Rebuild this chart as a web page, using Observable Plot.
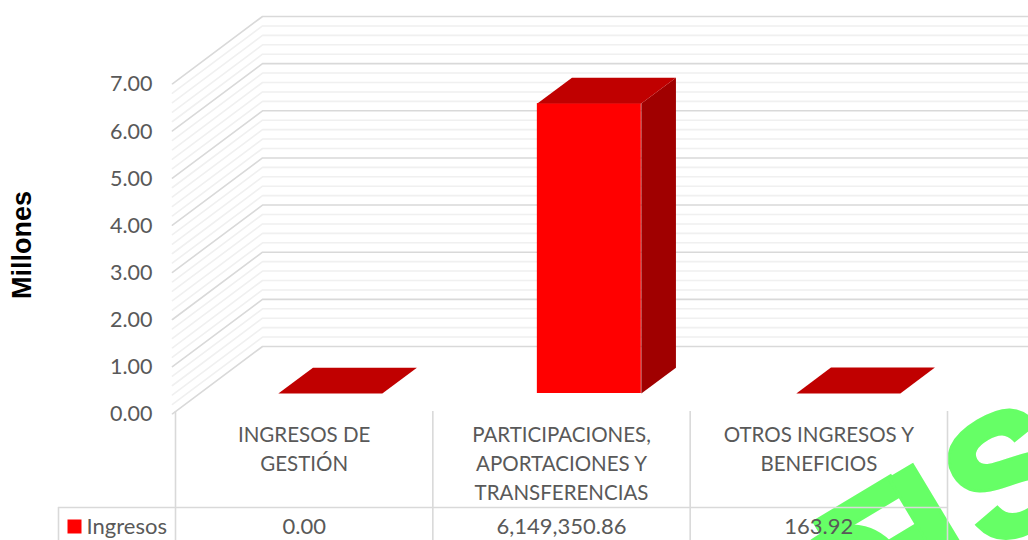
<!DOCTYPE html>
<html>
<head>
<meta charset="utf-8">
<script src="https://cdn.jsdelivr.net/npm/d3@7"></script>
<script src="https://cdn.jsdelivr.net/npm/@observablehq/plot@0.6"></script>
<style>
html,body{margin:0;padding:0;background:#fff;overflow:hidden}
svg{display:block}
</style>
</head>
<body>
<div id="chart"></div>
<script>
const categories = ["INGRESOS DE\nGESTIÓN", "PARTICIPACIONES,\nAPORTACIONES Y\nTRANSFERENCIAS", "OTROS INGRESOS Y\nBENEFICIOS"];
const values = [0.00, 6149350.86, 163.92];
const seriesName = "Ingresos";
const axisTitle = "Millones";
const watermarkLetters = ["O", "F", "I", "S"];
const yTicks = [0, 1, 2, 3, 4, 5, 6, 7];
const minorTicks = d3.range(0, 35).map(i => i / 5).concat([7]);

// frame of the chart
const W = 1028, H = 540, L = 175, R = 947, T = 81, B = 411;
const unitX = (R - L) / 3, unitY = (B - T) / 7;
// oblique depth of the 3-D box, in pixels at full depth
const depthX = 87, depthY = 65;
const X = (c, d = 0) => c + d * depthX / unitX;
const Y = (v, d = 0) => v + d * depthY / unitY;
const below = px => -px / unitY;      // distance under the zero line

const barOffset = 0.306, barStep = 1.0065, barWidth = 0.404, d1 = 0.277, d2 = 0.675;
const barStart = i => barOffset + i * barStep;
const faces = [];
values.forEach((val, i) => {
  const v = val / 1e6, a = barStart(i), b = a + barWidth;
  [[a, d1], [b, d1], [b, d2], [a, d2]].forEach(([c, d]) => faces.push({face: "top" + i, kind: "top", x: X(c, d), y: Y(v, d)}));
  if (v > 0.01) {
    [[b, d1, 0], [b, d2, 0], [b, d2, v], [b, d1, v]].forEach(([c, d, h]) =>
      faces.push({face: "side" + i, kind: "side", x: X(c, d), y: Y(h, d)}));
  }
});

const wallLines = t => [{x: X(0, -0.035), y: Y(t, -0.035), t}, {x: X(0, 1), y: Y(t, 1), t}, {x: X(3, 1), y: Y(t, 1), t}];
const minorData = minorTicks.filter(t => !yTicks.includes(t)).flatMap(wallLines);
const majorData = yTicks.flatMap(wallLines);

const ink = "#595959", rule = "#d9d9d9";

// where each watermark letter starts, along its rotated baseline
const letterStarts = [[823, 673], [866, 628], [941, 585], [990, 553]];

const plot = Plot.plot({
  width: W, height: H,
  marginLeft: L, marginRight: W - R, marginTop: T, marginBottom: H - B,
  x: {domain: [0, 3], axis: null},
  y: {domain: [0, 7], axis: null},
  style: {fontFamily: "Lato", fontSize: "20px", background: "transparent", color: ink},
  marks: [
    // watermark under the table
    Plot.text(watermarkLetters, {
      x: (d, i) => (letterStarts[i][0] - L) / unitX,
      y: (d, i) => (B - letterStarts[i][1]) / unitY,
      text: d => d, rotate: -31, fontFamily: "Liberation Sans", fontWeight: 700, fontSize: 170,
      fill: "#66ff66", stroke: "#66ff66", strokeWidth: 6, strokeLinejoin: "miter",
      textAnchor: "start", lineAnchor: "bottom", ariaLabel: "watermark"
    }),
    // walls
    Plot.line(minorData, {x: "x", y: "y", z: "t", stroke: "#f0f0f0", strokeWidth: 1.6}),
    Plot.line(majorData, {x: "x", y: "y", z: "t", stroke: rule, strokeWidth: 1.6}),
    // bars
    Plot.line(faces.filter(f => f.kind === "side"), {x: "x", y: "y", z: "face", fill: "#a00000", stroke: null}),
    Plot.rect(d3.range(values.length).filter(i => values[i] / 1e6 > 0.01), {
      x1: i => X(barStart(i), d1),
      x2: i => X(barStart(i) + barWidth, d1),
      y1: Y(0, d1), y2: i => Y(values[i] / 1e6, d1), fill: "#ff0000"
    }),
    Plot.line(faces.filter(f => f.kind === "top"), {x: "x", y: "y", z: "face", fill: "#c00000", stroke: null}),
    // value axis
    Plot.axisY({ticks: yTicks, tickFormat: d3.format(".2f"), tickSize: 0, tickPadding: 23, label: null, fill: ink, dy: 3, fontSize: 21.5}),
    Plot.text([axisTitle], {
      x: [0], y: [3.53], dx: -153, text: d => d, rotate: -90,
      fontFamily: "Liberation Sans", fontWeight: 700, fontSize: 27, fill: "#000"
    }),
    // data table
    Plot.ruleX([0, 1, 2, 3], {y1: 0, y2: below(H - B), stroke: rule, strokeWidth: 1.6}),
    Plot.ruleX([(58 - L) / unitX], {y1: below(96), y2: below(H - B), stroke: rule, strokeWidth: 1.6}),
    Plot.ruleY([below(96)], {x1: (58 - L) / unitX, x2: 3, stroke: rule, strokeWidth: 1.6}),
    Plot.text(categories, {
      x: (d, i) => i + 0.5, y: 0, dy: 10, text: d => d, lineAnchor: "top", lineHeight: 1.42,
      fill: ink, fontSize: 20.5
    }),
    Plot.text(values, {
      x: (d, i) => i + 0.5, y: below(115), text: d => d3.format(",.2f")(d), fill: ink, fontSize: 22
    }),
    Plot.dot([seriesName], {x: [(74 - L) / unitX], y: [below(115)], symbol: "square", r: 7.9, fill: "#ff0000", stroke: null}),
    Plot.text([seriesName], {x: [(86 - L) / unitX], y: [below(115)], text: d => d, textAnchor: "start", fill: ink, fontSize: 22})
  ]
});
// the watermark lettering is condensed in the reference
d3.select(plot).selectAll('g[aria-label="watermark"] text').each(function () {
  this.setAttribute("transform", this.getAttribute("transform") + " scale(0.75,1)");
});
document.getElementById("chart").appendChild(plot);
</script>
</body>
</html>
